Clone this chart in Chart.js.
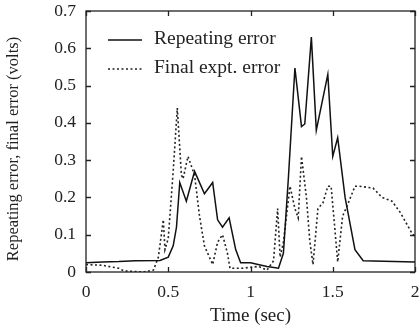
<!DOCTYPE html>
<html>
<head>
<meta charset="utf-8">
<script src="https://cdn.jsdelivr.net/npm/chart.js@4/dist/chart.umd.min.js"></script>
<style>
  html, body { margin: 0; padding: 0; background: #fff; }
</style>
</head>
<body>
<canvas id="c" width="419" height="333"></canvas>
<script>
// time (sec) / value (volts)
let repT = [0, 0.1, 0.2, 0.3, 0.45, 0.5, 0.53, 0.55, 0.57, 0.61, 0.66, 0.72, 0.77, 0.8, 0.83, 0.87, 0.91, 0.94, 1.0, 1.1, 1.17, 1.2, 1.23, 1.27, 1.31, 1.33, 1.37, 1.4, 1.47, 1.5, 1.53, 1.575, 1.635, 1.685, 2.0];
let repV = [0.025, 0.027, 0.028, 0.03, 0.031, 0.04, 0.07, 0.12, 0.24, 0.19, 0.27, 0.21, 0.24, 0.14, 0.12, 0.145, 0.06, 0.025, 0.025, 0.015, 0.01, 0.05, 0.25, 0.547, 0.39, 0.397, 0.63, 0.38, 0.53, 0.31, 0.36, 0.2, 0.06, 0.03, 0.027];

let finT = [0, 0.1, 0.2, 0.23, 0.35, 0.41, 0.44, 0.47, 0.48, 0.5, 0.53, 0.555, 0.58, 0.59, 0.62, 0.66, 0.69, 0.72, 0.77, 0.8, 0.83, 0.86, 0.875, 0.95, 1.05, 1.1, 1.14, 1.165, 1.18, 1.2, 1.24, 1.27, 1.29, 1.31, 1.34, 1.36, 1.38, 1.41, 1.44, 1.47, 1.49, 1.51, 1.53, 1.56, 1.59, 1.635, 1.66, 1.745, 1.8, 1.86, 1.91, 1.98, 2.0];
let finV = [0.02, 0.018, 0.01, 0.003, 0.0, 0.005, 0.04, 0.14, 0.06, 0.09, 0.27, 0.44, 0.26, 0.25, 0.31, 0.26, 0.15, 0.07, 0.02, 0.08, 0.1, 0.05, 0.01, 0.01, 0.015, 0.005, 0.03, 0.17, 0.04, 0.08, 0.23, 0.17, 0.145, 0.31, 0.2, 0.085, 0.02, 0.17, 0.185, 0.23, 0.23, 0.13, 0.027, 0.15, 0.18, 0.23, 0.23, 0.225, 0.2, 0.19, 0.16, 0.105, 0.095];

let xTicks = [0, 0.5, 1, 1.5, 2];
let yTicks = [0, 0.1, 0.2, 0.3, 0.4, 0.5, 0.6, 0.7];
let yTitle = 'Repeating error, final error (volts)';

function pts(t, v) {
    let out = [];
    for (let i = 0; i < t.length; i++) out.push({x: t[i], y: v[i]});
    return out;
}

const FONT = "'Liberation Serif', 'Times New Roman', serif";

// box, inward ticks, y title and legend
const frame = {
    id: 'frame',
    afterDraw(chart) {
        let ctx = chart.ctx, a = chart.chartArea;
        let xs = chart.scales.x, ys = chart.scales.y;
        ctx.save();
        ctx.strokeStyle = '#222';
        ctx.lineWidth = 1.3;
        ctx.strokeRect(a.left, a.top, a.right - a.left, a.bottom - a.top);
        ctx.beginPath();
        xTicks.forEach(t => {
            let px = Math.round(xs.getPixelForValue(t)) + 0.5;
            ctx.moveTo(px, a.bottom); ctx.lineTo(px, a.bottom - 5);
            ctx.moveTo(px, a.top); ctx.lineTo(px, a.top + 5);
        });
        yTicks.forEach(v => {
            let py = Math.round(ys.getPixelForValue(v)) + 0.5;
            ctx.moveTo(a.left, py); ctx.lineTo(a.left + 5, py);
            ctx.moveTo(a.right, py); ctx.lineTo(a.right - 5, py);
        });
        ctx.stroke();

        // y title, a bit below the plot centre as in the original
        ctx.save();
        ctx.translate(14, 149);
        ctx.rotate(-Math.PI / 2);
        ctx.font = '16.5px ' + FONT;
        ctx.fillStyle = '#222';
        ctx.textAlign = 'center';
        ctx.textBaseline = 'middle';
        ctx.fillText(yTitle, 0, 0);
        ctx.restore();

        // legend
        ctx.font = '19.5px ' + FONT;
        ctx.fillStyle = '#222';
        ctx.textBaseline = 'middle';
        chart.data.datasets.forEach((ds, i) => {
            let y = 40 + i * 29;
            ctx.beginPath();
            ctx.lineWidth = ds.borderWidth;
            ctx.strokeStyle = ds.borderColor;
            ctx.setLineDash(ds.borderDash || []);
            ctx.moveTo(108, y); ctx.lineTo(142, y);
            ctx.stroke();
            ctx.setLineDash([]);
            ctx.fillText(ds.label, 154, y - 1);
        });
        ctx.restore();
    }
};

new Chart(document.getElementById('c'), {
    type: 'line',
    data: {
        datasets: [
            {
                label: 'Repeating error',
                data: pts(repT, repV),
                borderColor: '#111',
                borderWidth: 1.5,
                pointRadius: 0,
                tension: 0,
                fill: false
            },
            {
                label: 'Final expt. error',
                data: pts(finT, finV),
                borderColor: '#222',
                borderWidth: 1.6,
                borderDash: [2, 2.5],
                pointRadius: 0,
                tension: 0,
                fill: false
            }
        ]
    },
    options: {
        responsive: false,
        animation: false,
        devicePixelRatio: 1,
        layout: { padding: { top: 11, right: 4, left: 0, bottom: 0 } },
        plugins: { legend: { display: false }, tooltip: { enabled: false } },
        scales: {
            x: {
                type: 'linear',
                min: 0, max: 2,
                afterBuildTicks: s => { s.ticks = xTicks.map(v => ({value: v})); },
                afterFit: s => { s.height = 61; s.paddingLeft = 0; s.paddingRight = 0; },
                grid: { display: false, drawTicks: false },
                border: { display: false },
                ticks: {
                    padding: 10,
                    color: '#222',
                    font: { family: FONT, size: 17.5 },
                    callback: v => String(v)
                },
                title: {
                    display: true,
                    text: 'Time (sec)',
                    color: '#222',
                    font: { family: FONT, size: 19 },
                    padding: { top: 0, bottom: 6 }
                }
            },
            y: {
                min: 0, max: 0.7,
                afterBuildTicks: s => { s.ticks = yTicks.map(v => ({value: v})); },
                afterFit: s => { s.width = 86; s.paddingTop = 0; s.paddingBottom = 0; },
                grid: { display: false, drawTicks: false },
                border: { display: false },
                ticks: {
                    padding: 10,
                    color: '#222',
                    font: { family: FONT, size: 17.5 },
                    callback: v => (v === 0 ? '0' : v.toFixed(1))
                }
            }
        }
    },
    plugins: [frame]
});
</script>
</body>
</html>
